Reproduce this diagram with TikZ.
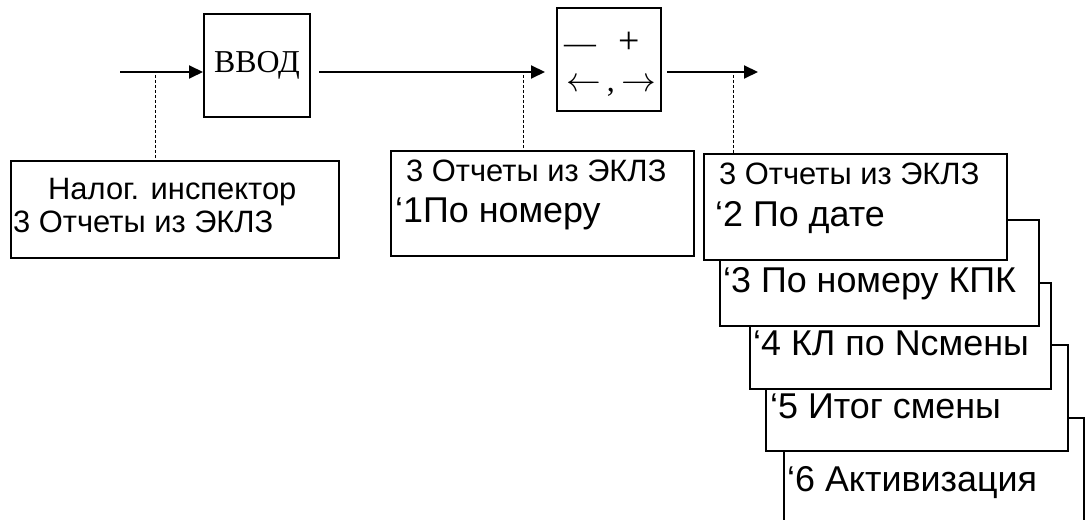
\documentclass[tikz,border=0pt]{standalone}
\usepackage{graphicx}
\usepackage{fontspec}
\setmainfont{Liberation Sans}
\newfontfamily\timesfont{Liberation Serif}
\usetikzlibrary{arrows.meta,calc}

\begin{document}
\begin{tikzpicture}[
  x=1bp, y=-1bp,
  frame/.style={draw,line width=2bp,fill=white,inner sep=0pt,anchor=north west},
  key/.style={draw,line width=2bp,inner sep=0pt,anchor=north west,font=\timesfont\fontsize{32}{38}\selectfont},
  keyrow/.style={anchor=base west,inner sep=0pt,font=\timesfont\fontsize{32}{38}\selectfont},
  head/.style={anchor=base west,inner sep=0pt,font=\fontsize{31}{33}\selectfont},
  item/.style={anchor=base west,inner sep=0pt,font=\fontsize{36}{40}\selectfont},
  arrow/.style={-{Triangle[length=14bp,width=13bp]},line width=2bp},
  leader/.style={dash pattern=on 3bp off 2bp,line width=1bp}
]
  \useasboundingbox (0,0) rectangle (1085,520);
  \node[key, minimum width=106bp, minimum height=103bp] (vvod) at (203,13) {\raisebox{-4bp}{ВВОД}};
  \node[key, minimum width=104bp, minimum height=103bp] (keys) at (556,7) {};
  \node[keyrow] (keyrow1) at ($(keys.north west)+(8,47)$)
    {—\hspace{22bp}{\fontsize{38}{38}\selectfont+}};
  \node[keyrow] (keyrow2) at ($(keys.north west)+(10,85)$)
    {\scalebox{1.4}{$\leftarrow$}\kern6bp,\kern7bp\scalebox{1.4}{$\rightarrow$}};
  \node[frame, minimum width=328bp, minimum height=97bp] (boxA) at (10,160) {};
  \node[frame, minimum width=303bp, minimum height=105bp] (boxB) at (390,150) {};
  \foreach \n/\x/\y/\w in {6/783/417/300, 5/765/344/302, 4/749/282/301, 3/719/219/319, 2/703/153/303}
    \node[frame, minimum width=\w bp, minimum height=106bp] (rep\n) at (\x,\y) {};

  \node[head] (txtA) at ($(boxA.north west)+(38,40)$) {Налог. инспектор};
  \node[head] (txtA2) at ($(boxA.north west)+(3,73)$) {3 Отчеты из ЭКЛЗ};
  \node[head] (txtB) at ($(boxB.north west)+(16,32)$) {3 Отчеты из ЭКЛЗ};
  \node[item] (itm1) at ($(boxB.north west)+(5,73)$) {‘1По номеру};
  \node[head] (txtC) at ($(rep2.north west)+(16,32)$) {3 Отчеты из ЭКЛЗ};
  \node[item] (itm2) at ($(rep2.north west)+(12,74)$) {‘2 По дате};
  \foreach \n/\dx/\txt in {3/4/‘3 По номеру КПК, 4/4/‘4 КЛ по Nсмены, 5/5/‘5 Итог смены, 6/4/‘6 Активизация}
    \node[item] (itm\n) at ($(rep\n.north west)+(\dx,74)$) {\txt};

  \coordinate (src) at (120,72);
  \coordinate (dst) at (758,72);
  \coordinate (tapA) at (155,72);
  \coordinate (tapB) at (523,72);
  \coordinate (tapC) at (733,72);
  \draw[arrow] (src) -- (src -| vvod.west);
  \draw[arrow, shorten <=8bp, shorten >=11bp] (vvod.east |- src) -- (keys.west |- src);
  \draw[arrow, shorten <=5bp] (keys.east |- src) -- (dst);
  \draw[leader, shorten <=3bp] (tapA) -- (tapA |- boxA.north);
  \draw[leader, shorten <=3bp] (tapB) -- (tapB |- boxB.north);
  \draw[leader, shorten <=3bp] (tapC) -- (tapC |- rep2.north);
\end{tikzpicture}
\end{document}
